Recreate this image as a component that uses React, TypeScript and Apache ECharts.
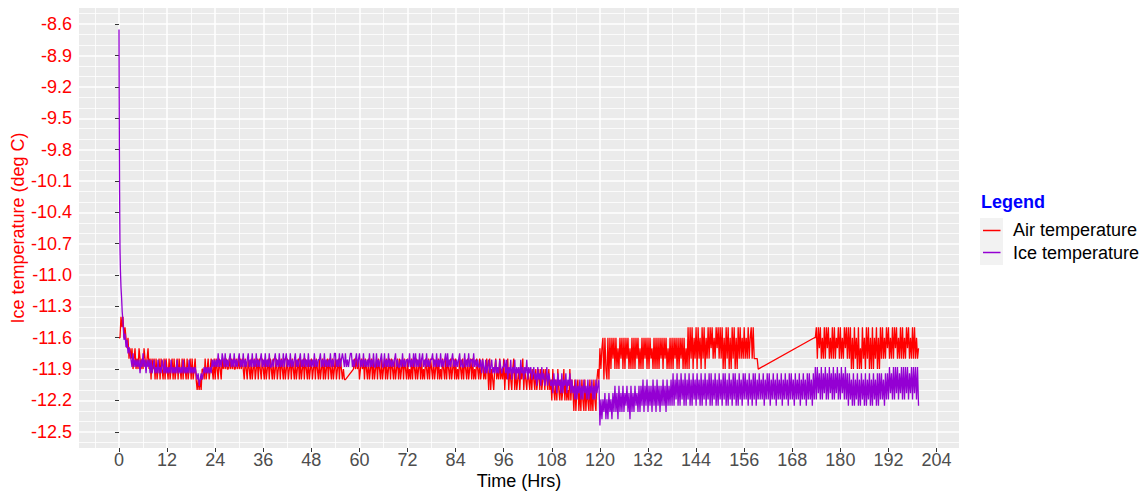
import React, { useEffect, useRef } from "react";
import * as echarts from "echarts";

// ---------- axes ----------
const xMajorTicks = [0, 12, 24, 36, 48, 60, 72, 84, 96, 108, 120, 132, 144, 156, 168, 180, 192, 204];
const xMinorGrid = [-6, 6, 18, 30, 42, 54, 66, 78, 90, 102, 114, 126, 138, 150, 162, 174, 186, 198];
const yMajorTicks = [-8.6, -8.9, -9.2, -9.5, -9.8, -10.1, -10.4, -10.7, -11.0, -11.3, -11.6, -11.9, -12.2, -12.5];
const yMinorGrid = [
  -8.5, -8.7, -8.8, -9.0, -9.1, -9.3, -9.4, -9.6, -9.7, -9.9, -10.0, -10.2, -10.3, -10.5,
  -10.6, -10.8, -10.9, -11.1, -11.2, -11.4, -11.5, -11.7, -11.8, -12.0, -12.1, -12.3, -12.4, -12.6,
];

// ---------- data (hours, deg C), readings every STEP_HRS inside each block ----------
const STEP_HRS = 0.25;

const airEarlyHrs = [0, 0.25, 0.5, 0.75, 1.0, 1.25, 1.5, 1.75, 2.0, 2.25, 2.5, 2.75];
const airEarly = [-11.6, -11.6, -11.4, -11.5, -11.4, -11.6, -11.5, -11.6, -11.7, -11.6, -11.8, -11.7];

const airDay1 = [
  -11.8, -11.7, -11.9, -11.8, -11.7, -11.9, -11.8, -11.9,
  -11.7, -11.8, -11.9, -11.8, -11.9, -11.7, -11.8, -11.9,
  -11.8, -11.7, -11.9, -11.8,
  -12.0, -11.8, -11.9, -11.8, -12.0, -11.8, -12.0, -11.9,
  -11.8, -12.0, -11.8, -11.9, -12.0, -11.8, -12.0, -11.8,
  -11.9, -12.0, -11.8, -12.0, -11.9, -11.8, -12.0, -11.8,
  -12.0, -11.9, -11.8, -12.0, -11.8, -11.9, -12.0, -11.8,
  -12.0, -11.8, -11.9, -12.0, -11.8, -12.0, -11.9, -11.8,
  -12.0, -11.8, -12.0, -11.9, -11.8, -12.0,
  -12.1, -12.0, -12.1, -12.0, -12.1, -11.9,
  -11.9, -12.0, -11.8, -12.0, -11.9, -11.8, -12.0, -11.9,
  -11.8, -11.9, -12.0, -11.8,
];
const airDay2 = [
  -12.0, -11.8, -11.9, -12.0, -11.8, -11.9, -12.0, -11.8,
  -11.9, -11.8, -11.9, -11.8, -11.9, -11.9, -11.8, -11.9,
  -11.8, -11.9, -11.8, -11.9, -11.9, -11.8, -11.9, -11.8,
  -11.9, -11.8, -11.9, -11.8, -11.9, -12.0, -11.8, -11.9,
  -12.0, -11.8, -11.9, -12.0, -11.8, -12.0, -11.9, -11.8,
  -12.0, -11.9, -11.8, -12.0, -11.8, -11.9, -12.0, -11.8,
  -11.9, -12.0, -11.8, -12.0, -11.9, -11.8, -12.0, -11.8,
  -11.9, -12.0, -11.8, -12.0, -11.9, -11.8, -12.0, -11.9,
  -11.8, -12.0, -11.8, -11.9, -12.0, -11.8, -12.0, -11.9,
  -11.8, -12.0, -11.9, -11.8, -12.0, -11.8, -11.9, -12.0,
  -11.8, -12.0, -11.9, -11.8, -12.0, -11.8, -12.0, -11.9,
  -11.8, -12.0, -11.8, -11.9, -12.0, -11.8, -12.0, -11.9,
];
const airDay3a = [
  -11.8, -12.0, -11.9, -11.8, -12.0, -11.8, -11.9, -12.0,
  -11.8, -12.0, -11.9, -11.8, -12.0, -11.8, -12.0, -11.9,
  -11.8, -12.0, -11.8, -11.9, -12.0, -11.8, -12.0, -11.9,
  -11.8, -12.0, -11.9, -11.8, -12.0, -11.8, -11.9, -12.0,
  -11.9, -12.0, -12.0,
];
const airDay3b = [
  -11.9, -11.8, -11.9, -11.8, -11.9, -11.8, -12.0, -11.9,
  -11.8, -11.9, -11.8, -12.0, -11.8, -11.9, -12.0, -11.8,
  -12.0, -11.9, -11.8, -12.0, -11.8, -12.0, -11.9, -11.8,
  -12.0, -11.8, -11.9, -12.0, -11.8, -12.0, -11.9, -11.8,
  -12.0, -11.8, -12.0, -11.9, -11.8, -12.0, -11.8, -11.9,
  -12.0, -11.8, -12.0, -11.9, -11.8, -12.0, -11.8, -12.0,
  -11.9, -11.8, -12.0, -11.8, -11.9, -12.0,
];
const airDay4 = [
  -11.8, -12.0, -11.9, -12.0, -11.8, -12.0, -11.8, -11.9,
  -12.0, -11.8, -12.0, -11.9, -11.8, -12.0, -11.8, -12.0,
  -11.9, -12.0, -11.8, -11.9, -12.0, -11.8, -12.0, -11.8,
  -11.9, -12.0, -11.8, -12.0, -11.9, -11.8, -12.0, -11.8,
  -12.0, -11.9, -12.0, -11.8, -11.9, -12.0, -11.8, -12.0,
  -11.8, -11.9, -12.0, -11.8, -12.0, -11.9, -11.8, -12.0,
  -11.8, -12.0, -11.9, -12.0, -11.8, -11.9, -12.0, -11.8,
  -12.0, -11.8, -11.9, -12.0, -11.8, -12.0, -11.9, -11.8,
  -12.0, -11.8, -12.0, -11.9, -12.0, -11.8, -11.9, -12.0,
  -11.8, -12.0, -11.9, -11.8, -12.0, -11.9, -12.0, -11.8,
  -11.9, -12.1, -11.8, -12.1, -11.9, -12.0, -12.1, -11.9,
  -11.8, -12.0, -11.9, -12.0, -11.8, -12.0, -11.9, -12.0,
];
const airDay5 = [
  -11.8, -12.1, -11.9, -12.0, -11.8, -12.1, -11.9, -12.0,
  -12.1, -11.9, -11.8, -12.1, -11.9, -12.1, -12.0, -11.9,
  -12.1, -11.9, -12.0, -11.8, -12.1, -11.9, -12.0, -12.1,
  -11.9, -12.0, -12.1, -11.9, -12.1, -11.9, -12.0, -12.1,
  -11.9, -12.1, -12.0, -11.9, -12.1, -11.9, -12.1, -12.0,
  -11.9, -12.1, -11.9, -12.0, -12.1, -11.9, -12.1, -12.0,
  -12.2, -11.9, -12.1, -12.2, -12.0, -12.2, -11.9, -12.1,
  -12.2, -12.0, -12.2, -12.1, -11.9, -12.2, -12.0, -12.2,
  -12.1, -12.2, -11.9, -12.2, -12.0, -12.1, -12.3, -12.0,
  -12.3, -12.1, -12.0, -12.3, -12.1, -12.3, -12.0, -12.2,
  -12.3, -12.0, -12.3, -12.1, -12.2, -12.3, -12.0, -12.3,
  -12.1, -12.3, -12.0, -12.2, -12.3, -12.0, -11.9, -12.0,
];
const airDay6 = [
  -11.7, -11.9, -11.7, -11.6, -12.0, -11.6, -11.9, -12.0,
  -11.6, -12.0, -11.6, -11.9, -11.6, -11.8, -11.6, -11.9,
  -11.6, -11.9, -11.7, -11.9, -11.6, -11.8, -11.6, -11.9,
  -11.6, -11.9, -11.6, -11.8, -11.6, -11.9, -11.7, -11.9,
  -11.6, -11.9, -11.6, -11.9, -11.6, -11.8, -11.6, -11.9,
  -11.7, -11.9, -11.6, -11.9, -11.6, -11.8, -11.6, -11.9,
  -11.6, -11.9, -11.6, -11.8, -11.7, -11.9, -11.6, -11.9,
  -11.6, -11.9, -11.6, -11.9, -11.6, -11.8, -11.6, -11.9,
  -11.6, -11.8, -11.6, -11.9, -11.7, -11.9, -11.6, -11.9,
  -11.6, -11.9, -11.6, -11.8, -11.6, -11.9, -11.6, -11.9,
  -11.6, -11.8, -11.6, -11.9, -11.6, -11.9, -11.7, -11.9,
  -11.5, -11.9, -11.5, -11.8, -11.5, -11.9, -11.6, -11.8,
];
const airDay7 = [
  -11.5, -11.9, -11.5, -11.8, -11.6, -11.9, -11.5, -11.8,
  -11.5, -11.9, -11.6, -11.8, -11.5, -11.8, -11.5, -11.7,
  -11.5, -11.8, -11.6, -11.8, -11.5, -11.7, -11.5, -11.8,
  -11.5, -11.8, -11.5, -11.9, -11.6, -11.9, -11.5, -11.8,
  -11.5, -11.9, -11.6, -11.9, -11.5, -11.8, -11.5, -11.9,
  -11.6, -11.9, -11.5, -11.8, -11.5, -11.8, -11.6, -11.8,
  -11.5, -11.8, -11.6, -11.8, -11.5, -11.8, -11.6, -11.5,
  -11.8, -11.5, -11.8, -11.8, -11.8, -11.8, -11.9,
];
const airDay8 = [
  -11.6, -11.6,
  -11.5, -11.8, -11.5, -11.7, -11.5, -11.8, -11.6, -11.8,
  -11.5, -11.8, -11.5, -11.7, -11.5, -11.8, -11.6, -11.8,
  -11.5, -11.8, -11.5, -11.8, -11.6, -11.7, -11.5, -11.8,
  -11.5, -11.8, -11.6, -11.8, -11.5, -11.7, -11.5, -11.8,
  -11.5, -11.8, -11.5, -11.9, -11.6, -11.9, -11.5, -11.8,
  -11.6, -11.9, -11.5, -11.9, -11.7, -11.9, -11.5, -11.8,
  -11.6, -11.9, -11.5, -11.8, -11.5, -11.9, -11.6, -11.9,
  -11.5, -11.9, -11.6, -11.8, -11.5, -11.9, -11.6, -11.9,
  -11.5, -11.8, -11.5, -11.8, -11.6, -11.8, -11.5, -11.7,
  -11.5, -11.8, -11.6, -11.8, -11.5, -11.8, -11.5, -11.7,
  -11.5, -11.8, -11.6, -11.8, -11.5, -11.8, -11.5, -11.8,
  -11.6, -11.8, -11.5, -11.7, -11.5, -11.8, -11.6, -11.8,
  -11.5, -11.8, -11.5, -11.8, -11.6, -11.8, -11.7,
];
const airBlocks = [
  { startHrs: 3, values: airDay1 },
  { startHrs: 24, values: airDay2 },
  { startHrs: 48, values: airDay3a },
  { startHrs: 58.5, values: airDay3b },
  { startHrs: 72, values: airDay4 },
  { startHrs: 96, values: airDay5 },
  { startHrs: 120, values: airDay6 },
  { startHrs: 144, values: airDay7 },
  { startHrs: 173.5, values: airDay8 },
];

const iceEarlyHrs = [0, 0.05, 0.1, 0.15, 0.2, 0.25, 0.35, 0.5, 0.65, 0.8, 1.0, 1.25, 1.5, 1.75, 2.0, 2.25, 2.5, 2.75];
const iceEarly = [-8.65, -9.3, -9.8, -10.2, -10.5, -10.75, -10.95, -11.12, -11.22, -11.35, -11.45, -11.62, -11.56, -11.69, -11.62, -11.75, -11.69, -11.75];

const iceDay1 = [
  -11.81, -11.88, -11.75, -11.88, -11.81, -11.88, -11.81, -11.88,
  -11.81, -11.94, -11.81, -11.88, -11.75, -11.88, -11.81, -11.94,
  -11.81, -11.88, -11.81, -11.94,
  -11.81, -11.94, -11.88, -11.81, -11.94, -11.88, -11.94, -11.81,
  -11.94, -11.88, -11.94, -11.81, -11.88, -11.94, -11.81, -11.94,
  -11.88, -11.94, -11.88, -11.94, -11.81, -11.94, -11.88, -11.94,
  -11.88, -11.94, -11.81, -11.94, -11.88, -11.94, -11.88, -11.94,
  -11.81, -11.94, -11.88, -11.94, -11.88, -11.94, -11.81, -11.94,
  -11.88, -11.94, -11.88, -11.94, -11.88, -11.94,
  -12.0, -11.94, -12.06, -12.0, -11.94, -12.0,
  -11.94, -11.88, -11.94, -11.88, -11.94, -11.88, -11.94, -11.88,
  -11.94, -11.81, -11.88, -11.81,
];
const iceDay2 = [
  -11.88, -11.81, -11.88, -11.75, -11.88, -11.81, -11.88, -11.75,
  -11.81, -11.88, -11.75, -11.88, -11.81, -11.88, -11.81, -11.75,
  -11.88, -11.81, -11.88, -11.75, -11.88, -11.81, -11.88, -11.81,
  -11.75, -11.88, -11.81, -11.88, -11.75, -11.88, -11.81, -11.88,
  -11.81, -11.75, -11.88, -11.81, -11.88, -11.75, -11.88, -11.81,
  -11.88, -11.75, -11.88, -11.81, -11.88, -11.81, -11.75, -11.88,
  -11.81, -11.88, -11.75, -11.88, -11.81, -11.88, -11.75, -11.88,
  -11.88, -11.81, -11.88, -11.81, -11.75, -11.88, -11.81, -11.88,
  -11.75, -11.88, -11.81, -11.88, -11.75, -11.88, -11.81, -11.75,
  -11.88, -11.81, -11.88, -11.75, -11.88, -11.81, -11.88, -11.81,
  -11.75, -11.88, -11.81, -11.88, -11.81, -11.75, -11.88, -11.81,
  -11.88, -11.75, -11.88, -11.81, -11.88, -11.75, -11.88, -11.81,
];
const iceDay3 = [
  -11.88, -11.81, -11.88, -11.75, -11.88, -11.81, -11.88, -11.81,
  -11.81, -11.75, -11.88, -11.81, -11.88, -11.75, -11.88, -11.81,
  -11.88, -11.81, -11.88, -11.75, -11.88, -11.81, -11.88, -11.75,
  -11.75, -11.88, -11.81, -11.88, -11.75, -11.88, -11.81, -11.75,
  -11.81, -11.88, -11.75, -11.88, -11.81, -11.88, -11.81, -11.75,
  -11.75, -11.88, -11.81, -11.88, -11.81, -11.75, -11.88, -11.81,
  -11.75, -11.88, -11.81, -11.88, -11.75, -11.88, -11.81, -11.88,
  -11.81, -11.88, -11.75, -11.88, -11.81, -11.88, -11.75, -11.88,
  -11.88, -11.75, -11.88, -11.81, -11.88, -11.81, -11.75, -11.88,
  -11.88, -11.75, -11.88, -11.81, -11.88, -11.75, -11.88, -11.81,
  -11.88, -11.81, -11.88, -11.81, -11.75, -11.88, -11.81, -11.88,
  -11.88, -11.81, -11.88, -11.75, -11.88, -11.81, -11.88, -11.81,
];
const iceDay4 = [
  -11.81, -11.88, -11.75, -11.88, -11.81, -11.88, -11.75, -11.88,
  -11.75, -11.88, -11.81, -11.88, -11.75, -11.88, -11.81, -11.75,
  -11.88, -11.81, -11.88, -11.75, -11.88, -11.81, -11.88, -11.81,
  -11.81, -11.75, -11.88, -11.81, -11.88, -11.75, -11.88, -11.81,
  -11.88, -11.75, -11.88, -11.81, -11.88, -11.81, -11.75, -11.88,
  -11.75, -11.88, -11.81, -11.88, -11.81, -11.75, -11.88, -11.81,
  -11.88, -11.81, -11.88, -11.81, -11.75, -11.88, -11.81, -11.88,
  -11.88, -11.75, -11.88, -11.81, -11.88, -11.75, -11.88, -11.81,
  -11.81, -11.88, -11.75, -11.88, -11.81, -11.88, -11.81, -11.88,
  -11.88, -11.81, -11.94, -11.81, -11.88, -11.94, -11.81, -11.94,
  -11.88, -11.81, -11.94, -11.88, -11.81, -11.94, -11.88, -11.94,
  -11.81, -11.94, -11.88, -11.94, -11.81, -11.88, -11.94, -11.88,
];
const iceDay5 = [
  -11.88, -11.81, -11.94, -11.81, -12.0, -11.88, -11.94, -11.81,
  -12.0, -11.88, -11.94, -11.81, -12.0, -11.88, -11.94, -11.88,
  -12.0, -11.81, -11.94, -11.88, -12.0, -11.88, -11.94, -11.81,
  -12.0, -11.88, -11.94, -11.88, -12.0, -11.94, -11.88, -12.0,
  -11.94, -12.06, -11.88, -12.0, -11.94, -12.06, -11.88, -12.0,
  -11.94, -12.06, -12.0, -11.88, -12.06, -11.94, -12.0, -12.06,
  -12.0, -12.13, -11.94, -12.06, -12.0, -12.13, -11.94, -12.06,
  -12.0, -12.13, -11.94, -12.13, -12.0, -12.06, -11.94, -12.13,
  -12.0, -12.06, -11.94, -12.13, -12.0, -12.13, -12.06, -12.19,
  -12.0, -12.19, -12.06, -12.13, -12.0, -12.19, -12.06, -12.19,
  -12.0, -12.13, -12.06, -12.19, -12.0, -12.19, -12.06, -12.13,
  -12.0, -12.19, -12.06, -12.19, -12.0, -12.13, -12.06, -12.0,
];
const iceDay6 = [
  -12.44, -12.19, -12.38, -12.19, -12.31, -12.13, -12.38, -12.19,
  -12.38, -12.13, -12.31, -12.19, -12.38, -12.13, -12.31, -12.06,
  -12.31, -12.13, -12.38, -12.06, -12.31, -12.13, -12.31, -12.06,
  -12.31, -12.13, -12.25, -12.06, -12.31, -12.13, -12.38, -12.06,
  -12.31, -12.13, -12.31, -12.06, -12.25, -12.13, -12.31, -12.06,
  -12.31, -12.06, -12.25, -12.0, -12.31, -12.06, -12.25, -12.0,
  -12.31, -12.06, -12.25, -12.06, -12.31, -12.0, -12.25, -12.06,
  -12.31, -12.0, -12.25, -12.06, -12.31, -12.06, -12.25, -12.0,
  -12.25, -12.06, -12.31, -12.0, -12.25, -12.06, -12.25, -12.0,
  -12.25, -11.94, -12.25, -12.0, -12.19, -11.94, -12.25, -12.0,
  -12.25, -11.94, -12.19, -12.0, -12.25, -11.94, -12.25, -12.0,
  -12.19, -11.94, -12.25, -12.0, -12.25, -11.94, -12.19, -12.0,
];
const iceDay7 = [
  -12.25, -11.94, -12.19, -12.0, -12.25, -11.94, -12.25, -12.0,
  -12.19, -11.94, -12.25, -12.0, -12.19, -11.94, -12.25, -11.94,
  -12.25, -12.0, -12.19, -11.94, -12.25, -12.0, -12.25, -11.94,
  -12.19, -12.0, -12.25, -11.94, -12.19, -11.94, -12.25, -12.0,
  -12.25, -11.94, -12.19, -12.0, -12.25, -11.94, -12.19, -11.94,
  -12.25, -12.0, -12.25, -11.94, -12.19, -12.0, -12.25, -11.94,
  -12.19, -11.94, -12.19, -12.0, -12.25, -11.94, -12.19, -12.0,
  -12.25, -11.94, -12.19, -11.94, -12.25, -12.0, -12.19, -11.94,
  -12.19, -12.0, -12.19, -11.94, -12.25, -12.0, -12.19, -11.94,
  -12.19, -11.94, -12.25, -12.0, -12.19, -11.94, -12.19, -12.0,
  -12.25, -11.94, -12.19, -12.0, -12.19, -11.94, -12.25, -12.0,
  -12.19, -11.94, -12.19, -12.0, -12.25, -11.94, -12.19, -11.94,
];
const iceDay8 = [
  -12.19, -12.0, -12.25, -11.94, -12.19, -12.0, -12.19, -11.94,
  -12.25, -12.0, -12.19, -11.94, -12.19, -12.0, -12.25, -11.94,
  -12.19, -11.94, -12.19, -12.0, -12.25, -11.94, -12.19, -11.88,
  -12.19, -11.88, -12.13, -11.94, -12.19, -11.88, -12.19, -11.94,
  -12.13, -11.88, -12.19, -11.94, -12.19, -11.88, -12.13, -11.94,
  -12.19, -11.88, -12.19, -11.94, -12.13, -11.88, -12.19, -11.94,
  -12.19, -11.88, -12.13, -11.94, -12.19, -11.88, -12.19, -11.94,
  -12.25, -11.94, -12.19, -12.0, -12.25, -11.94, -12.25, -12.0,
  -12.19, -11.94, -12.25, -12.0, -12.25, -11.94, -12.19, -12.0,
  -12.25, -11.94, -12.25, -12.0, -12.19, -11.94, -12.25, -12.0,
  -12.25, -11.94, -12.19, -12.0, -12.25, -11.94, -12.25, -11.94,
  -12.19, -11.94, -12.19, -12.0, -12.25, -11.94, -12.19, -11.94,
];
const iceDay9 = [
  -12.19, -11.88, -12.13, -11.94, -12.19, -11.88, -12.19, -11.88,
  -12.13, -11.88, -12.19, -11.94, -12.13, -11.88, -12.19, -11.88,
  -12.19, -11.88, -12.13, -11.88, -12.19, -11.94, -12.13, -11.88,
  -12.19, -11.88, -12.13, -11.88, -12.19, -11.88, -12.25,
];
const iceBlocks = [
  { startHrs: 3, values: iceDay1 },
  { startHrs: 24, values: iceDay2 },
  { startHrs: 48, values: iceDay3 },
  { startHrs: 72, values: iceDay4 },
  { startHrs: 96, values: iceDay5 },
  { startHrs: 120, values: iceDay6 },
  { startHrs: 144, values: iceDay7 },
  { startHrs: 168, values: iceDay8 },
  { startHrs: 192, values: iceDay9 },
];

function buildSeries(earlyHrs: number[], early: number[], blocks: { startHrs: number; values: number[] }[]) {
  const out: [number, number][] = earlyHrs.map((h, i) => [h, early[i]]);
  blocks.forEach((b) => {
    b.values.forEach((v, i) => out.push([b.startHrs + i * STEP_HRS, v]));
  });
  return out;
}

const X_MIN = -9.98;
const X_MAX = 209.6;
const Y_MIN = -12.655;
const Y_MAX = -8.445;
const FONT = '"Liberation Sans", Arial, sans-serif';

export default function App() {
  const ref = useRef<HTMLDivElement>(null);
  useEffect(() => {
    document.body.style.margin = "0";
    if (!ref.current) return;
    const chart = echarts.init(ref.current, null, { renderer: "svg" });
    const airData = buildSeries(airEarlyHrs, airEarly, airBlocks);
    const iceData = buildSeries(iceEarlyHrs, iceEarly, iceBlocks);
    chart.setOption({
      animation: false,
      textStyle: { fontFamily: FONT },
      grid: {
        left: 79,
        right: 188,
        top: 8,
        bottom: 44,
        show: true,
        backgroundColor: "#EBEBEB",
        borderWidth: 0,
        containLabel: false,
        outerBoundsMode: "none",
      },
      xAxis: [
        {
          type: "value",
          min: X_MIN,
          max: X_MAX,
          position: "bottom",
          axisLine: { show: false },
          axisTick: { show: false, customValues: xMinorGrid },
          axisLabel: { show: false, customValues: xMinorGrid },
          splitLine: { show: true, lineStyle: { color: "#FFFFFF", width: 0.8 } },
        },
        {
          type: "value",
          min: X_MIN,
          max: X_MAX,
          position: "bottom",
          axisLine: { show: false },
          axisTick: { show: true, customValues: xMajorTicks, length: 4, lineStyle: { color: "#333333", width: 1 } },
          axisLabel: { customValues: xMajorTicks, color: "#4D4D4D", fontSize: 18, margin: 3, fontFamily: FONT },
          splitLine: { show: true, lineStyle: { color: "#FFFFFF", width: 1.5 } },
          name: "Time (Hrs)",
          nameLocation: "middle",
          nameGap: 24,
          nameMoveOverlap: false,
          nameTextStyle: { color: "#000000", fontSize: 18, fontFamily: FONT },
        },
      ],
      yAxis: [
        {
          type: "value",
          position: "left",
          min: Y_MIN,
          max: Y_MAX,
          axisLine: { show: false },
          axisTick: { show: false, customValues: yMinorGrid },
          axisLabel: { show: false, customValues: yMinorGrid },
          splitLine: { show: true, lineStyle: { color: "#FFFFFF", width: 0.8 } },
        },
        {
          type: "value",
          position: "left",
          min: Y_MIN,
          max: Y_MAX,
          axisLine: { show: false },
          axisTick: { show: true, customValues: yMajorTicks, length: 4, lineStyle: { color: "#333333", width: 1 } },
          axisLabel: {
            customValues: yMajorTicks,
            color: "#FF0000",
            fontSize: 18,
            margin: 7,
            fontFamily: FONT,
            formatter: (v: number) => v.toFixed(1),
          },
          splitLine: { show: true, lineStyle: { color: "#FFFFFF", width: 1.5 } },
          name: "Ice temperature (deg C)",
          nameLocation: "middle",
          nameGap: 52,
          nameMoveOverlap: false,
          nameTextStyle: { color: "#FF0000", fontSize: 18, fontFamily: FONT },
        },
      ],
      series: [
        {
          type: "line",
          name: "Air temperature",
          xAxisIndex: 1,
          yAxisIndex: 1,
          data: airData,
          symbol: "none",
          showSymbol: false,
          silent: true,
          lineStyle: { color: "#FF0000", width: 1.3 },
          itemStyle: { color: "#FF0000" },
        },
        {
          type: "line",
          name: "Ice temperature",
          xAxisIndex: 1,
          yAxisIndex: 1,
          data: iceData,
          symbol: "none",
          showSymbol: false,
          silent: true,
          lineStyle: { color: "#9400D3", width: 1.3 },
          itemStyle: { color: "#9400D3" },
        },
      ],
      graphic: [
        {
          type: "text",
          x: 981,
          y: 201.5,
          style: { text: "Legend", fill: "#0000FF", font: `bold 18px ${FONT}`, verticalAlign: "middle" },
        },
        { type: "rect", shape: { x: 980, y: 218, width: 23, height: 47 }, style: { fill: "#F2F2F2" } },
        { type: "line", shape: { x1: 983, y1: 230.5, x2: 1000.5, y2: 230.5 }, style: { stroke: "#FF0000", lineWidth: 1.5 } },
        { type: "line", shape: { x1: 983, y1: 252.5, x2: 1000.5, y2: 252.5 }, style: { stroke: "#9400D3", lineWidth: 1.5 } },
        {
          type: "text",
          x: 1013,
          y: 230,
          style: { text: "Air temperature", fill: "#000000", font: `18px ${FONT}`, verticalAlign: "middle" },
        },
        {
          type: "text",
          x: 1013,
          y: 252.5,
          style: { text: "Ice temperature", fill: "#000000", font: `18px ${FONT}`, verticalAlign: "middle" },
        },
      ],
    });
    return () => chart.dispose();
  }, []);
  return <div ref={ref} style={{ width: 1147, height: 492 }} />;
}
